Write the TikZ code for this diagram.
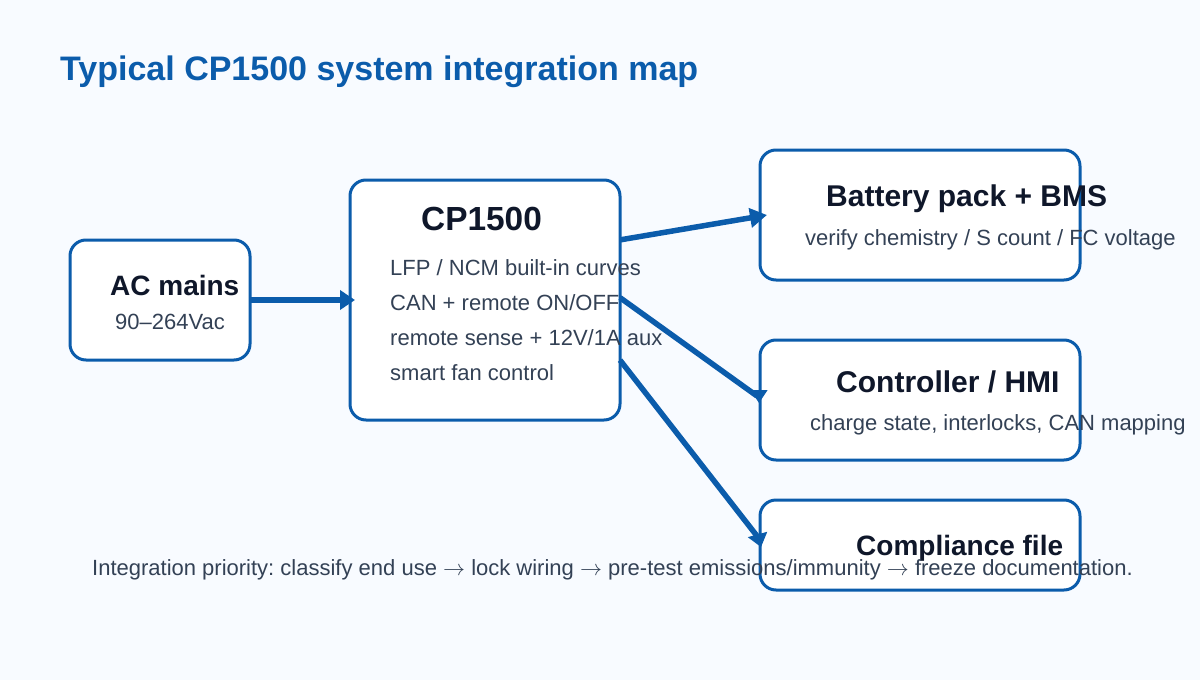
\documentclass[tikz,border=0pt]{standalone}
\usepackage{fix-cm}
\usepackage{fontspec}
\setmainfont{Liberation Sans}
\usepackage{xcolor}
\usetikzlibrary{positioning, arrows.meta}
\definecolor{pagebg}{HTML}{F8FBFF}
\definecolor{linkblue}{HTML}{0B5CAB}
\definecolor{headink}{HTML}{0F172A}
\definecolor{bodyink}{HTML}{334155}
\newcommand{\FlowArrow}{$\rightarrow$}
\tikzset{
    boxnode/.style={draw=linkblue, fill=white, line width=3pt, rounded corners=16pt, outer sep=0pt, inner sep=0pt},
    headlabel/.style={anchor=base west, inner sep=0pt, font=\bfseries\fontsize{28}{30}\selectfont, text=headink},
    widehead/.style={headlabel, font=\bfseries\fontsize{30}{32}\selectfont},
    bodylabel/.style={anchor=base west, inner sep=0pt, font=\fontsize{22}{26}\selectfont, text=bodyink},
    linkline/.style={draw=linkblue, line width=5.5pt},
    linkarrow/.style={draw=linkblue, line width=5.5pt, -{Triangle[length=15pt,width=19pt]}},
    tiponly/.style={draw=linkblue, line width=1pt}
}

\begin{document}
\begin{tikzpicture}[x=1pt, y=-1pt]
        \useasboundingbox[fill=pagebg] (0,0) rectangle (1200,680);

        % title
        \node[anchor=base west, inner sep=0pt, font=\bfseries\fontsize{34}{38}\selectfont, text=linkblue] (title) at (60,80) {Typical CP1500 system integration map};

        % draw boxes
        \node[boxnode, minimum width=180pt, minimum height=120pt] (mains) at (160,300) {};
        \node[boxnode, minimum width=270pt, minimum height=240pt] (cp) at (485,300) {};
        \node[boxnode, minimum width=320pt, minimum height=130pt] (battery) at (920,215) {};
        \node[boxnode, minimum width=320pt, minimum height=120pt] (controller) at (920,400) {};
        \node[boxnode, minimum width=320pt, minimum height=90pt] (compliance) at (920,545) {};

        % box texts
        \node[headlabel] (mainshead) at (110,295) {AC mains};
        \node[bodylabel] (mainsbody) at (115,329) {90–264Vac};
        \node[headlabel, font=\bfseries\fontsize{33.4}{36}\selectfont] (cphead) at (421,230) {CP1500};
        \foreach \y/\descr in {275/{LFP / NCM built-in curves}, 310/{CAN + remote ON/OFF}, 345/{remote sense + 12V/1A aux}, 380/{smart fan control}}
        \node[bodylabel] at (390,\y) {\descr};
        \node[widehead] (batteryhead) at (826,206) {Battery pack + BMS};
        \node[bodylabel] (batterybody) at (805,245) {verify chemistry / S count / FC voltage};
        \node[widehead] (controllerhead) at (836,392) {Controller / HMI};
        \node[bodylabel] (controllerbody) at (810,430) {charge state, interlocks, CAN mapping};
        \node[headlabel] (compliancehead) at (856,555) {Compliance file};

        % draw arrows
        \coordinate (controllerbend) at (757,396);
        \coordinate (controllertip) at (759,390);
        \coordinate (compliancebend) at (757,536);
        \coordinate (compliancetip) at (757.4,534);
        \draw[linkarrow] (mains.east) -- ([xshift=5pt]cp.west);
        \draw[linkarrow, -{Triangle[length=17pt,width=19pt]}] (cp.24) -- ([xshift=7pt]battery.west);
        \draw[linkline] (cp.1) -- (controllerbend);
        \draw[linkline] (cp.-24) -- (compliancebend);
        \draw[tiponly, -{Triangle[length=13pt,width=17pt]}] (controllertip) -- ([xshift=-1pt,yshift=-3pt]controller.west);
        \draw[tiponly, -{Triangle[length=13pt,width=20pt]}] (compliancetip) -- ([xshift=1pt,yshift=-2pt]compliance.west);

        % priority note
        \node[bodylabel] (note) at (92,575) {\frenchspacing Integration priority: classify end use \FlowArrow{} lock wiring \FlowArrow{} pre-test emissions/immunity \FlowArrow{} freeze documentation.};
    \end{tikzpicture}
\end{document}
